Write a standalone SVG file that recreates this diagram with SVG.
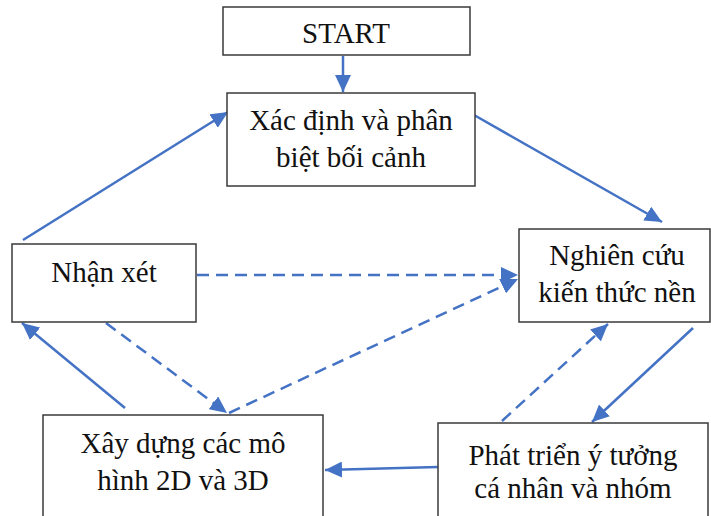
<svg xmlns="http://www.w3.org/2000/svg" width="711" height="516" viewBox="0 0 711 516">
<style>
.box{fill:#fff;stroke:#3a3a3a;stroke-width:1.5}
.t{font-family:"Liberation Serif","Times New Roman",serif;font-size:29px;fill:#111;text-anchor:middle}
.c{stroke:#4472C4;stroke-width:2.5;fill:none}
.d{stroke-dasharray:12 7}
</style>
<defs>
<marker id="ah" markerUnits="userSpaceOnUse" markerWidth="18" markerHeight="16" refX="17" refY="8" orient="auto">
<path d="M0,0 L17,8 L0,16 z" fill="#4472C4"/>
</marker>
</defs>
<rect width="711" height="516" fill="#fff"/>
<g id="connectors">
<line class="c" x1="343" y1="56" x2="343" y2="92" marker-end="url(#ah)"/>
<line class="c" x1="23" y1="240" x2="228" y2="112" marker-end="url(#ah)"/>
<line class="c" x1="474" y1="115" x2="662" y2="222" marker-end="url(#ah)"/>
<line class="c" x1="693" y1="328" x2="592" y2="422" marker-end="url(#ah)"/>
<line class="c" x1="438" y1="467" x2="325" y2="470" marker-end="url(#ah)"/>
<line class="c" x1="125" y1="408" x2="22" y2="323" marker-end="url(#ah)"/>
<line class="c d" x1="197" y1="275" x2="518" y2="275" marker-end="url(#ah)"/>
<line class="c d" x1="106" y1="323" x2="227" y2="413" marker-end="url(#ah)"/>
<line class="c d" x1="229" y1="413" x2="518" y2="279" marker-end="url(#ah)"/>
<line class="c d" x1="502" y1="421" x2="608" y2="324" marker-end="url(#ah)"/>
</g>
<g id="start">
<rect class="box" x="223" y="7" width="247" height="48"/>
<text class="t" x="346" y="43">START</text>
</g>
<g id="xacdinh">
<rect class="box" x="227" y="93" width="248" height="93"/>
<text class="t" x="351" y="130">Xác định và phân</text>
<text class="t" x="351" y="167">biệt bối cảnh</text>
</g>
<g id="nghiencuu">
<rect class="box" x="519" y="229" width="191" height="93"/>
<text class="t" x="617" y="265">Nghiên cứu</text>
<text class="t" x="617" y="302">kiến thức nền</text>
</g>
<g id="nhanxet">
<rect class="box" x="12" y="244" width="184" height="78"/>
<text class="t" x="104" y="282">Nhận xét</text>
</g>
<g id="xaydung">
<rect class="box" x="43" y="415" width="280" height="110"/>
<text class="t" x="183" y="453">Xây dựng các mô</text>
<text class="t" x="183" y="490">hình 2D và 3D</text>
</g>
<g id="phattrien">
<rect class="box" x="438" y="423" width="270" height="110"/>
<text class="t" x="573" y="465">Phát triển ý tưởng</text>
<text class="t" x="573" y="498">cá nhân và nhóm</text>
</g>
</svg>
